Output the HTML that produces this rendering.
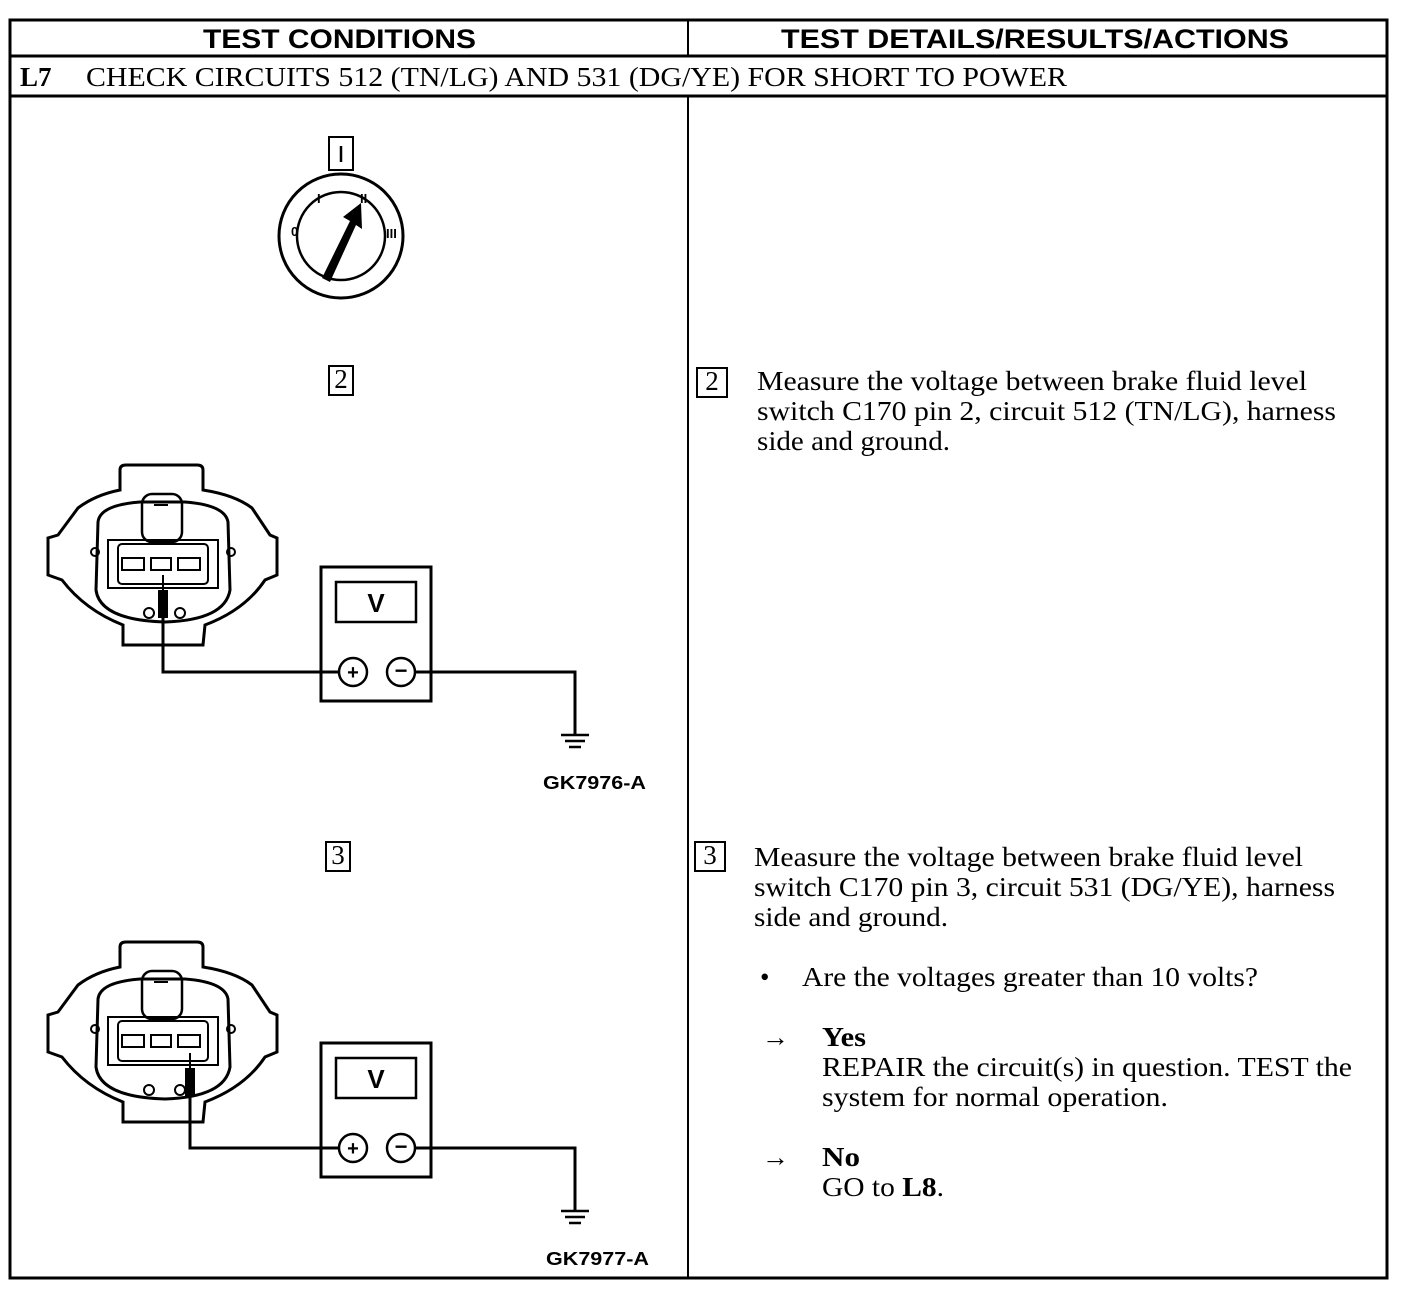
<!DOCTYPE html>
<html><head><style>
body{margin:0;background:#fff;}
svg{display:block;}
text{fill:#000;}
.s{font-family:"Liberation Serif",serif;font-size:27px;}
.h{font-family:"Liberation Sans",sans-serif;font-weight:bold;font-size:27px;}
</style></head><body>
<svg width="1408" height="1300" viewBox="0 0 1408 1300" xmlns="http://www.w3.org/2000/svg">
<defs>
<g id="conn" fill="none" stroke="#000" stroke-width="3">
<path d="M80 10 Q80 5 86 5 L157 5 Q163 5 163 10 L163 30 Q195 35 212 48 L230 75 L237 78 L237 115 L225 120 Q205 150 165 165 L163 185 L83 185 L83 165 Q45 150 22 120 L8 115 L8 78 L18 75 L38 48 Q55 35 80 30 Z"/>
<path d="M58 62 Q60 45 100 42 L145 42 Q185 45 188 62 L190 130 Q185 160 125 162 Q60 160 56 130 Z"/>
<path d="M68 80 L178 80 L178 128 L68 128 Z" stroke-width="2"/>
<rect x="78" y="84" width="90" height="40" rx="4" stroke-width="2"/>
<rect x="102" y="34" width="40" height="48" rx="10" stroke-width="2.5"/>
<line x1="114" y1="45" x2="128" y2="45" stroke-width="2"/>
<rect x="82" y="98" width="22" height="12" stroke-width="2"/>
<rect x="111" y="98" width="20" height="12" stroke-width="2"/>
<rect x="138" y="98" width="22" height="12" stroke-width="2"/>
<circle cx="55" cy="92" r="4" stroke-width="2"/><circle cx="191" cy="92" r="4" stroke-width="2"/>
<circle cx="109" cy="153" r="5" stroke-width="2"/><circle cx="140" cy="153" r="5" stroke-width="2"/>
</g>
<g id="meter">
<rect x="321" y="0" width="110" height="134" fill="none" stroke="#000" stroke-width="3"/>
<rect x="336" y="15" width="80" height="40" fill="none" stroke="#000" stroke-width="2.5"/>
<text x="376" y="45" text-anchor="middle" font-family="Liberation Sans,sans-serif" font-weight="bold" font-size="26">V</text>
<circle cx="353" cy="105" r="14" fill="none" stroke="#000" stroke-width="2.5"/>
<circle cx="401" cy="105" r="14" fill="none" stroke="#000" stroke-width="2.5"/>
<text x="353" y="112" text-anchor="middle" font-family="Liberation Sans,sans-serif" font-weight="bold" font-size="20">+</text>
<text x="401" y="111" text-anchor="middle" font-family="Liberation Sans,sans-serif" font-weight="bold" font-size="22">−</text>
<path d="M415 105 L575 105 L575 168" fill="none" stroke="#000" stroke-width="3"/>
<line x1="561" y1="168" x2="589" y2="168" stroke="#000" stroke-width="2.5"/>
<line x1="565" y1="174" x2="585" y2="174" stroke="#000" stroke-width="2.5"/>
<line x1="569" y1="180" x2="581" y2="180" stroke="#000" stroke-width="2.5"/>
</g>
</defs>
<rect x="10" y="20" width="1377" height="1258" fill="none" stroke="#000" stroke-width="3"/>
<line x1="10" y1="56" x2="1387" y2="56" stroke="#000" stroke-width="3"/>
<line x1="10" y1="96" x2="1387" y2="96" stroke="#000" stroke-width="3"/>
<line x1="688" y1="20" x2="688" y2="56" stroke="#000" stroke-width="2"/>
<line x1="688" y1="96" x2="688" y2="1278" stroke="#000" stroke-width="2"/>
<text class="h" x="203" y="48" textLength="273" lengthAdjust="spacingAndGlyphs">TEST CONDITIONS</text>
<text class="h" x="781" y="48" textLength="508" lengthAdjust="spacingAndGlyphs">TEST DETAILS/RESULTS/ACTIONS</text>
<text class="s" x="20" y="86" font-weight="bold">L7</text>
<text class="s" x="86" y="86" textLength="981" lengthAdjust="spacingAndGlyphs">CHECK CIRCUITS 512 (TN/LG) AND 531 (DG/YE) FOR SHORT TO POWER</text>
<rect x="329" y="137" width="24" height="33" fill="none" stroke="#000" stroke-width="2"/>
<line x1="341" y1="146" x2="341" y2="162" stroke="#000" stroke-width="2.5"/>
<circle cx="341" cy="236" r="62" fill="none" stroke="#000" stroke-width="3"/>
<circle cx="341" cy="236" r="44" fill="none" stroke="#000" stroke-width="2.5"/>
<polygon points="322,278 330,282 356,225 362,229 361,203 343,217 350,221" fill="#000"/>
<text x="291" y="236" font-family="Liberation Sans,sans-serif" font-size="13" font-weight="bold">0</text>
<text x="317" y="203" font-family="Liberation Sans,sans-serif" font-size="13" font-weight="bold">I</text>
<text x="360" y="203" font-family="Liberation Sans,sans-serif" font-size="13" font-weight="bold">II</text>
<text x="386" y="238" font-family="Liberation Sans,sans-serif" font-size="13" font-weight="bold">III</text>
<rect x="329" y="366" width="24" height="29" fill="none" stroke="#000" stroke-width="2"/>
<text class="s" x="341" y="388" text-anchor="middle" font-size="20">2</text>
<use href="#conn" x="40" y="460"/>
<rect x="158" y="590" width="10" height="28" fill="#000"/>
<line x1="163" y1="575" x2="163" y2="590" stroke="#000" stroke-width="2"/>
<path d="M163 618 L163 672 L340 672" fill="none" stroke="#000" stroke-width="3"/>
<use href="#meter" x="0" y="567"/>
<text x="543" y="789" textLength="103" lengthAdjust="spacingAndGlyphs" font-family="Liberation Sans,sans-serif" font-weight="bold" font-size="18">GK7976-A</text>
<rect x="326" y="842" width="24" height="29" fill="none" stroke="#000" stroke-width="2"/>
<text class="s" x="338" y="864" text-anchor="middle" font-size="20">3</text>
<use href="#conn" x="40" y="937"/>
<rect x="185" y="1068" width="10" height="28" fill="#000"/>
<line x1="190" y1="1053" x2="190" y2="1068" stroke="#000" stroke-width="2"/>
<path d="M190 1096 L190 1148 L340 1148" fill="none" stroke="#000" stroke-width="3"/>
<use href="#meter" x="0" y="1043"/>
<text x="546" y="1265" textLength="103" lengthAdjust="spacingAndGlyphs" font-family="Liberation Sans,sans-serif" font-weight="bold" font-size="18">GK7977-A</text>
<rect x="697" y="368" width="30" height="29" fill="none" stroke="#000" stroke-width="2"/>
<text class="s" x="712" y="390" text-anchor="middle" font-size="20">2</text>
<text class="s" x="757" y="390" textLength="550" lengthAdjust="spacingAndGlyphs">Measure the voltage between brake fluid level</text>
<text class="s" x="757" y="420" textLength="579" lengthAdjust="spacingAndGlyphs">switch C170 pin 2, circuit 512 (TN/LG), harness</text>
<text class="s" x="757" y="450" textLength="193" lengthAdjust="spacingAndGlyphs">side and ground.</text>
<rect x="695" y="842" width="30" height="29" fill="none" stroke="#000" stroke-width="2"/>
<text class="s" x="710" y="864" text-anchor="middle" font-size="20">3</text>
<text class="s" x="754" y="866" textLength="549" lengthAdjust="spacingAndGlyphs">Measure the voltage between brake fluid level</text>
<text class="s" x="754" y="896" textLength="581" lengthAdjust="spacingAndGlyphs">switch C170 pin 3, circuit 531 (DG/YE), harness</text>
<text class="s" x="754" y="926" textLength="194" lengthAdjust="spacingAndGlyphs">side and ground.</text>
<text class="s" x="760" y="986">•</text>
<text class="s" x="802" y="986" textLength="456" lengthAdjust="spacingAndGlyphs">Are the voltages greater than 10 volts?</text>
<text class="s" x="762" y="1046" font-size="30">→</text>
<text class="s" x="822" y="1046" font-weight="bold" textLength="44" lengthAdjust="spacingAndGlyphs">Yes</text>
<text class="s" x="822" y="1076" textLength="530" lengthAdjust="spacingAndGlyphs">REPAIR the circuit(s) in question. TEST the</text>
<text class="s" x="822" y="1106" textLength="346" lengthAdjust="spacingAndGlyphs">system for normal operation.</text>
<text class="s" x="762" y="1166" font-size="30">→</text>
<text class="s" x="822" y="1166" font-weight="bold" textLength="38" lengthAdjust="spacingAndGlyphs">No</text>
<text class="s" x="822" y="1196" textLength="122" lengthAdjust="spacingAndGlyphs">GO to <tspan font-weight="bold">L8</tspan>.</text>
</svg>
</body></html>
